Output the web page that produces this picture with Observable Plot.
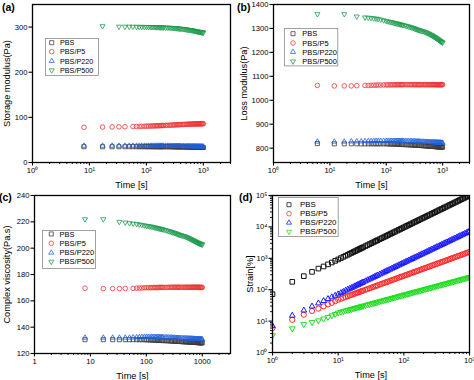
<!DOCTYPE html>
<html><head><meta charset="utf-8">
<script src="https://cdn.jsdelivr.net/npm/d3@7"></script>
<script src="https://cdn.jsdelivr.net/npm/@observablehq/plot@0.6"></script>
<style>
body{margin:0;background:#fff;font-family:Arial,"Liberation Sans",sans-serif;}
#root{position:relative;width:474px;height:380px;overflow:hidden;background:#fff;}
.panel{position:absolute;width:237px;height:190px;}
.letter{position:absolute;font-weight:bold;font-size:10.5px;line-height:10.5px;color:#000;}
</style></head><body><div id="root"></div><script>
// ---------- data ----------
const seriesNames = ["PBS", "PBS/P5", "PBS/P220", "PBS/P500"];

// (a) storage modulus
const timeA = [8,17,25,33,42,50,58,67,75,83,92,100, 108,117,125,133,142,150,158,167,175,183,192,200, 217,233,250,267,283,300,317,333,350,367,383,400, 425,450,475,500,525,550,575,600,625,650,675,700,725,750,775,800,825,850,875,900,925,950,975,1000];
const storagePBS  = [35,35,35,35,35,35,35,35,35,35,35,35, 35,35,35,35,35,35,35,35,35,35,35,35, 35,35,34.9,34.9,34.8,34.8,34.7,34.7,34.6,34.6,34.5,34.5, 34.4,34.4,34.3,34.3,34.2,34.2,34.1,34.1,34,34,33.9,33.9,33.8,33.8,33.7,33.7,33.6,33.6,33.5,33.5,33.4,33.4,33.3,33.3];
const storageP5   = [78,78.5,78.8,79,79.2,null,79.6,79.8,80,80.2,80.3,80.5, 80.6,80.8,80.9,81,81.2,81.3,81.4,81.5,81.7,81.8,81.9,82, 82.2,82.4,82.6,82.8,83,83.1,83.3,83.4,83.6,83.7,83.9,84, 84.2,84.3,84.5,84.6,84.7,84.8,84.9,85,85.1,85.2,85.3,85.4,85.4,85.5,85.6,85.6,85.7,85.7,85.8,85.8,85.9,85.9,86,86];
const storageP220 = [37,37,37,37,37,37,37,37,37,37,37,37, 37,37,37,37,37,37,37,37,37,37,37,37, 37,36.9,36.9,36.8,36.8,36.7,36.7,36.6,36.6,36.5,36.5,36.4, 36.3,36.2,36.1,36,36,35.9,35.9,35.8,35.8,35.7,35.7,35.6,35.6,35.5,35.5,35.4,35.4,35.3,35.3,35.2,35.2,35.1,35.1,35];
const storageP500 = [null,302,null,301,301,301,300.8,300.7,300.6,300.5,300.4,300.3, 300.2,300.1,300,300,299.9,299.8,299.7,299.6,299.5,299.4,299.3,299.2, 299,298.8,298.6,298.4,298.1,297.9,297.7,297.4,297.2,296.9,296.7,296.4, 296,295.6,295.2,294.8,294.4,294,293.6,293.2,292.8,292.4,292,291.6,291.2,290.8,290.4,290,289.7,289.4,289.1,288.8,288.5,288.3,288.1,288];

// (b) loss modulus
const timeB = [6,12,18,24,30,36,42,48,54,60,66,72,80,90,100, 108,117,125,133,142,150,158,167,175,183,192,200, 217,233,250,267,283,300,317,333,350,367,383,400, 425,450,475,500,525,550,575,600,625,650,675,700,725,750,775,800,825,850,875,900,925,950,975,1000];
const lossPBS  = [819,818,818,818,818,818,818,818,818,818,818,818,818,818,818, 817.8,817.5,817.3,817,816.8,816.5,816.3,816,815.7,815.5,815.2,815, 814.6,814.2,813.9,813.5,813.2,812.9,812.5,812.2,811.9,811.6,811.3,811, 810.6,810.2,809.8,809.4,809,808.7,808.3,808,807.7,807.4,807.1,806.8,806.5,806.2,806,805.7,805.4,805.2,804.9,804.7,804.5,804.3,804.1,804];
const lossP5   = [1062,1060,1060,1060,1061,null,1062,1062,1062.5,1063,1063,1063.5,1063.5,1064,1064, 1064.2,1064.4,1064.5,1064.6,1064.7,1064.8,1064.9,1065,1065,1065,1065,1065, 1065,1065,1065,1065,1065,1065,1065,1065,1065,1065,1065,1065, 1065,1065,1065,1065,1065,1065,1065,1065,1065,1065,1065,1065,1065,1065,1065,1065,1065,1065,1065,1065,1065,1065,1065,1065];
const lossP220 = [827,827,827,828,828,828,829,829,829,830,830,830,830,830,830, 830,830,830,830,830,830,830,830,830,830,830,830, 829.8,829.5,829.3,829,828.8,828.5,828.3,828,827.8,827.5,827.3,827, 826.8,826.5,826.3,826,825.8,825.5,825.3,825,824.8,824.6,824.4,824.2,824,823.8,823.6,823.4,823.2,823,822.8,822.6,822.4,822.3,822.1,822];
const lossP500 = [1360,null,1360,null,1350,null,1346,1345,1344,1342,1341,1340,1337,1334,1331, 1329,1327,1326,1324,1322.5,1321,1320,1319,1317.5,1316,1315,1314, 1312,1310,1308,1306,1304,1302,1300,1298,1296,1294,1292.5,1291, 1289.5,1288,1286,1284,1282,1280,1277.5,1275,1273,1271,1268.5,1266,1264,1261.5,1259,1257,1255,1252.5,1250,1248,1246,1244.5,1243,1241];

// (c) complex viscosity
const timeC = [8,17,25,33,42,50,58,67,75,83,92,100, 108,117,125,133,142,150,158,167,175,183,192,200, 217,233,250,267,283,300,317,333,350,367,383,400, 425,450,475,500,525,550,575,600,625,650,675,700,725,750,775,800,825,850,875,900,925,950,975,1000];
const viscPBS  = [130.5,130.5,130.5,130.5,130.5,130.5,130.5,130.5,130.5,130.5,130.5,130.4, 130.35,130.3,130.25,130.2,130.15,130.1,130.05,130,129.95,129.9,129.85,129.8, 129.75,129.7,129.6,129.55,129.5,129.4,129.35,129.3,129.25,129.2,129.15,129.1, 129,128.95,128.9,128.85,128.8,128.75,128.7,128.65,128.6,128.55,128.5,128.45,128.4,128.4,128.35,128.3,128.3,128.25,128.2,128.2,128.15,128.1,128.1,128.1];
const viscP5   = [169.6,169.3,169.3,169.3,169.4,null,169.5,169.6,169.7,169.8,169.9,170, 170,170,170.05,170.1,170.1,170.1,170.15,170.2,170.2,170.2,170.2,170.2, 170.2,170.2,170.3,170.3,170.3,170.3,170.3,170.3,170.3,170.3,170.3,170.3, 170.3,170.3,170.3,170.3,170.3,170.3,170.3,170.3,170.3,170.3,170.3,170.3,170.3,170.3,170.3,170.3,170.3,170.3,170.2,170.2,170.2,170.2,170.2,170.2];
const viscP220 = [132,132,132,132,132,132,132.2,132.3,132.4,132.5,132.5,132.5, 132.5,132.5,132.5,132.5,132.5,132.5,132.5,132.5,132.45,132.4,132.4,132.4, 132.35,132.3,132.2,132.15,132.1,132,131.95,131.9,131.85,131.8,131.75,131.7, 131.65,131.6,131.55,131.5,131.45,131.4,131.35,131.3,131.3,131.25,131.2,131.15,131.1,131.1,131.05,131,131,130.95,130.9,130.9,130.85,130.8,130.75,130.7];
const viscP500 = [222,222,null,220,219.5,219,218.7,218.4,218,217.7,217.3,217, 216.8,216.5,216.3,216,215.7,215.5,215.2,215,214.8,214.6,214.4,214.2, 213.8,213.4,213,212.7,212.3,212,211.6,211.3,211,210.6,210.3,210, 209.7,209.4,209.1,208.8,208.4,208,207.6,207.2,206.8,206.5,206.1,205.8,205.4,205.1,204.8,204.5,204.2,204,203.7,203.5,203.3,203.1,202.9,202.8];

// (d) strain
const timeD = [1,2,3,4,5,6,7,8,9,10,11,12,13,14,15, 16,17,18,19,20,21,22,23,24, 26,28,30,32,34,36,38,40, 43,46,49,52,55,58, 62,66,70,74,79,84,89,94,100, 106,112,119,126,134,142,150,159,168,178,189,200, 212,225,238,252,267,283,300, 318,337,357,378,400, 424,449,476,504,534,566,600, 636,674,714,757,802,850,900,954,1000];
const strainPBS  = [72,178,270,370,470,550,641,734,828,921,1015,1110,1205,1299,1394, 1488,1583,1678,1773,1869,1964,2059,2155,2251, 2442,2634,2826,3018,3211,3403,3596,3790, 4080,4370,4661,4953,5244,5536, 5926,6316,6707,7098,7587,8077,8568,9060,9649, 10240,10832,11522,12215,13007,13799,14593,15486,16381,17376,18471,19568, 20766,22065,23367,24771,26276,27882,29592, 31404,33319,35337,37459,39684, 42114,44649,47388,50233,53284,56542,60007, 63680,67562,71654,76055,80675,85601,90739,96293,101033];
const strainP5   = [6,11,16,21,25,29.5,34,38,43,48,51.6,55.1,58.6,62,65.3, 68.6,71.9,75.1,78.2,81.3,84.4,87.5,90.5,93.5, 99.3,105.1,110.7,116.3,121.8,127.2,132.6,137.9, 145.7,153.3,160.9,168.3,175.7,182.9, 192.4,201.8,211,220.2,231.4,242.5,253.4,264.1,276.9, 289.4,301.8,316,330.1,345.9,361.5,376.9,394,410.9,429.4,449.4,469.2, 490.5,513.2,535.6,559.4,584.6,611,638.8, 667.8,697.9,729.3,761.7,795.2, 831.2,868.2,907.7,948,990.7,1035.6,1082.6, 1131.6,1182.8,1235.9,1292,1350,1411,1474,1541,1597];
const strainP220 = [7,15,22,29.5,37,44,51,58,65,72,79,86,94,101,108, 115,122,130,137,144,151,158,166,173, 187,202,216,230,245,259,274,288, 310,331,353,374,396,418, 446,475,504,533,569,605,641,677,720, 763,806,857,907,965,1022,1080,1145,1210,1282,1361,1440, 1526,1620,1714,1814,1922,2038,2160, 2290,2426,2570,2722,2880, 3053,3233,3427,3629,3845,4075,4320, 4579,4853,5141,5450,5774,6120,6480,6869,7200];
const strainP500 = [3.5,5.8,7.9,9.2,10.4,11.9,13.4,15,16.7,18.5,19.5,20.5,21.5,22.4,23.3, 24.1,25,25.8,26.6,27.4,28.1,28.9,29.6,30.3, 31.7,33.1,34.4,35.7,36.9,38.1,39.3,40.5, 42.2,43.8,45.4,47,48.5,49.9, 51.9,53.7,55.5,57.3,59.5,61.6,63.6,65.6,68, 70.2,72.4,75,77.4,80.2,82.8,85.4,88.3,91.1,94.1,97.4,100.5, 103.9,107.4,110.9,114.5,118.4,122.3,126.4, 130.6,135,139.5,144,148.7, 153.7,158.7,164.1,169.5,175.1,180.9,187, 193.3,199.7,206.3,213.2,220.3,227.7,235.2,243,249.6];

// tick values and labels
const xTicksLog = [1, 10, 100, 1000];
const xTickLabelsSup = ["10⁰", "10¹", "10²", "10³"];
const xTickLabelsPlain = ["1", "10", "100", "1000"];
const xMinorABC = [2,3,4,5,6,7,8,9,20,30,40,50,60,70,80,90,200,300,400,500,600,700,800,900,2000,3000];
const xMinorD = [2,3,4,5,6,7,8,9,20,30,40,50,60,70,80,90,200,300,400,500,600,700,800,900];
const yTicksA = [0, 100, 200, 300];
const yTicksB = [800, 900, 1000, 1100, 1200, 1300, 1400];
const yTicksC = [120, 140, 160, 180, 200, 220, 240];
const yTicksD = [1, 10, 100, 1000, 10000, 100000];
const yTickLabelsD = ["10⁰", "10¹", "10²", "10³", "10⁴", "10⁵"];
const yMinorD = [2,3,4,5,6,7,8,9,20,30,40,50,60,70,80,90,200,300,400,500,600,700,800,900,2000,3000,4000,5000,6000,7000,8000,9000,20000,30000,40000,50000,60000,70000,80000,90000];

// ---------- styling ----------
const colorsABC = ["#3a3a3a", "#ee3535", "#1f5fd6", "#1f9c4f"];
const colorsD = ["#111111", "#ff2b2b", "#1a1aff", "#22dd22"];
const sqrt3 = Math.sqrt(3);
const K = 0.82;
const triUp = {draw(ctx, size){ const y = -Math.sqrt(size/(sqrt3*3))*K; ctx.moveTo(0, y*2); ctx.lineTo(-sqrt3*y, -y); ctx.lineTo(sqrt3*y, -y); ctx.closePath(); }};
const triDown = {draw(ctx, size){ const y = -Math.sqrt(size/(sqrt3*3))*K; ctx.moveTo(0, -y*2); ctx.lineTo(-sqrt3*y, y); ctx.lineTo(sqrt3*y, y); ctx.closePath(); }};
const symbols = [d3.symbolSquare, d3.symbolCircle, triUp, triDown];
const FONT = "Arial, 'Liberation Sans', sans-serif";

const panels = [
  {letter:"(a)", letterX:2, left:0, top:0, times:timeA, series:[storagePBS,storageP5,storageP220,storageP500],
   yType:"linear", yDomain:[0,350], yTicks:yTicksA, yFmt:d=>String(d), yLabel:"Storage modulus(Pa)",
   xDomain:[1,3000], xMinor:xMinorABC, xLabels:xTickLabelsSup, colors:colorsABC, sw:0.8, r:2.3,
   m:{t:4,r:7,b:28,l:32}, yLabelOffset:29.5,
   legend:{x:45,y:38,w:54,h:38,rows:[42.7,51.7,61,70.3],sx:51.7,tx:60,fs:7.2}},
  {letter:"(b)", letterX:0, left:237, top:0, times:timeB, series:[lossPBS,lossP5,lossP220,lossP500],
   yType:"linear", yDomain:[740,1400], yTicks:yTicksB, yFmt:d=>String(d), yLabel:"Loss modulus(Pa)",
   xDomain:[1,3000], xMinor:xMinorABC, xLabels:xTickLabelsSup, colors:colorsABC, sw:0.8, r:2.3,
   m:{t:4,r:5,b:28,l:36}, yLabelOffset:33.5,
   legend:{x:46.7,y:28.3,w:54.3,h:38.4,rows:[34,43.3,52.3,61.7],sx:55.7,tx:65,fs:7.5}},
  {letter:"(c)", letterX:-1, left:0, top:190, times:timeC, series:[viscPBS,viscP5,viscP220,viscP500],
   yType:"linear", yDomain:[120,240], yTicks:yTicksC, yFmt:d=>String(d), yLabel:"Complex viscosity(Pa.s)",
   xDomain:[1,3200], xMinor:xMinorABC, xLabels:xTickLabelsPlain, colors:colorsABC, sw:0.8, r:2.3,
   m:{t:5,r:7,b:27,l:34}, yLabelOffset:31.5,
   legend:{x:41.7,y:40,w:54,h:39,rows:[44,53.3,62.7,71.7],sx:51,tx:59.3,fs:7.5}},
  {letter:"(d)", letterX:2, left:237, top:190, times:timeD, series:[strainPBS,strainP5,strainP220,strainP500],
   yType:"log", yDomain:[1,100000], yTicks:yTicksD, yFmt:d=>yTickLabelsD[yTicksD.indexOf(d)], yMinor:yMinorD, yLabel:"Strain[%]",
   xDomain:[1,1000], xMinor:xMinorD, xLabels:xTickLabelsSup, colors:colorsD, clip:true, sw:1.0, r:2.6,
   m:{t:5,r:5,b:28,l:35}, yLabelOffset:26,
   legend:{x:41,y:7.3,w:60.7,h:40,rows:[15,24,33,42],sx:52,tx:63,fs:7.9}}
];

const root = document.getElementById("root");

panels.forEach(p => {
  const div = document.createElement("div");
  div.className = "panel";
  div.style.left = p.left + "px";
  div.style.top = p.top + "px";
  root.appendChild(div);

  const data = [];
  p.series.forEach((vals, si) => vals.forEach((v, i) => {
    if (v != null) data.push({t: p.times[i], v, s: seriesNames[si]});
  }));
  const fmtX = d => p.xLabels[xTicksLog.indexOf(d)];

  const marks = [
    Plot.dot(data, {x:"t", y:"v", symbol:"s", stroke:"s", r:p.r, strokeWidth:p.sw, clip: !!p.clip}),
    Plot.frame({stroke:"#000", strokeWidth:1.3}),
    Plot.axisX({ticks:xTicksLog, tickFormat:fmtX, tickSize:3.5, tickPadding:1.5, fontSize:7.6, label:null, strokeWidth:1.1}),
    Plot.axisX({ticks:p.xMinor, tickFormat:() => "", tickSize:2, label:null, strokeWidth:0.9}),
    Plot.axisX({ticks:[], label:"Time [s]", labelAnchor:"center", labelArrow:"none", labelOffset:25, fontSize:9.2, fontWeight:"normal"}),
    Plot.axisY({ticks:p.yTicks, tickFormat:p.yFmt, tickSize:3.5, tickPadding:1.5, fontSize:7.6, label:null, strokeWidth:1.1}),
    Plot.axisY({ticks:[], label:p.yLabel, labelAnchor:"center", labelArrow:"none", labelOffset:p.yLabelOffset, fontSize:9.2, fontWeight:"normal"})
  ];
  if (p.yMinor) marks.push(Plot.axisY({ticks:p.yMinor, tickFormat:() => "", tickSize:2, label:null, strokeWidth:0.9}));

  const svg = Plot.plot({
    width:237, height:190,
    marginTop:p.m.t, marginRight:p.m.r, marginBottom:p.m.b, marginLeft:p.m.l,
    style:{fontFamily:FONT, background:"transparent", color:"#000"},
    x:{type:"log", domain:p.xDomain},
    y:{type:p.yType, domain:p.yDomain},
    color:{domain:seriesNames, range:p.colors},
    symbol:{domain:seriesNames, range:symbols},
    marks
  });
  div.appendChild(svg);

  // legend box
  const L = p.legend;
  const lg = d3.select(div).append("svg")
    .style("position","absolute").style("left", L.x+"px").style("top", L.y+"px")
    .attr("width", L.w).attr("height", L.h).style("overflow","visible");
  lg.append("rect").attr("x",0.5).attr("y",0.5).attr("width",L.w-1).attr("height",L.h-1)
    .attr("fill","#fff").attr("stroke","#8a8a8a").attr("stroke-width",0.8);
  seriesNames.forEach((name, i) => {
    const cy = L.rows[i] - L.y;
    lg.append("path").attr("transform", `translate(${L.sx-L.x},${cy})`)
      .attr("d", d3.symbol(symbols[i], Math.PI*2.3*2.3)())
      .attr("fill","none").attr("stroke", p.colors[i]).attr("stroke-width",0.75);
    lg.append("text").attr("x", L.tx-L.x).attr("y", cy).attr("dy","0.35em")
      .attr("font-size",L.fs).attr("font-family",FONT).attr("fill","#000").text(name);
  });

  const lt = document.createElement("div");
  lt.className = "letter";
  lt.style.left = p.letterX + "px";
  lt.style.top = "2px";
  lt.textContent = p.letter;
  div.appendChild(lt);
});
</script></body></html>
